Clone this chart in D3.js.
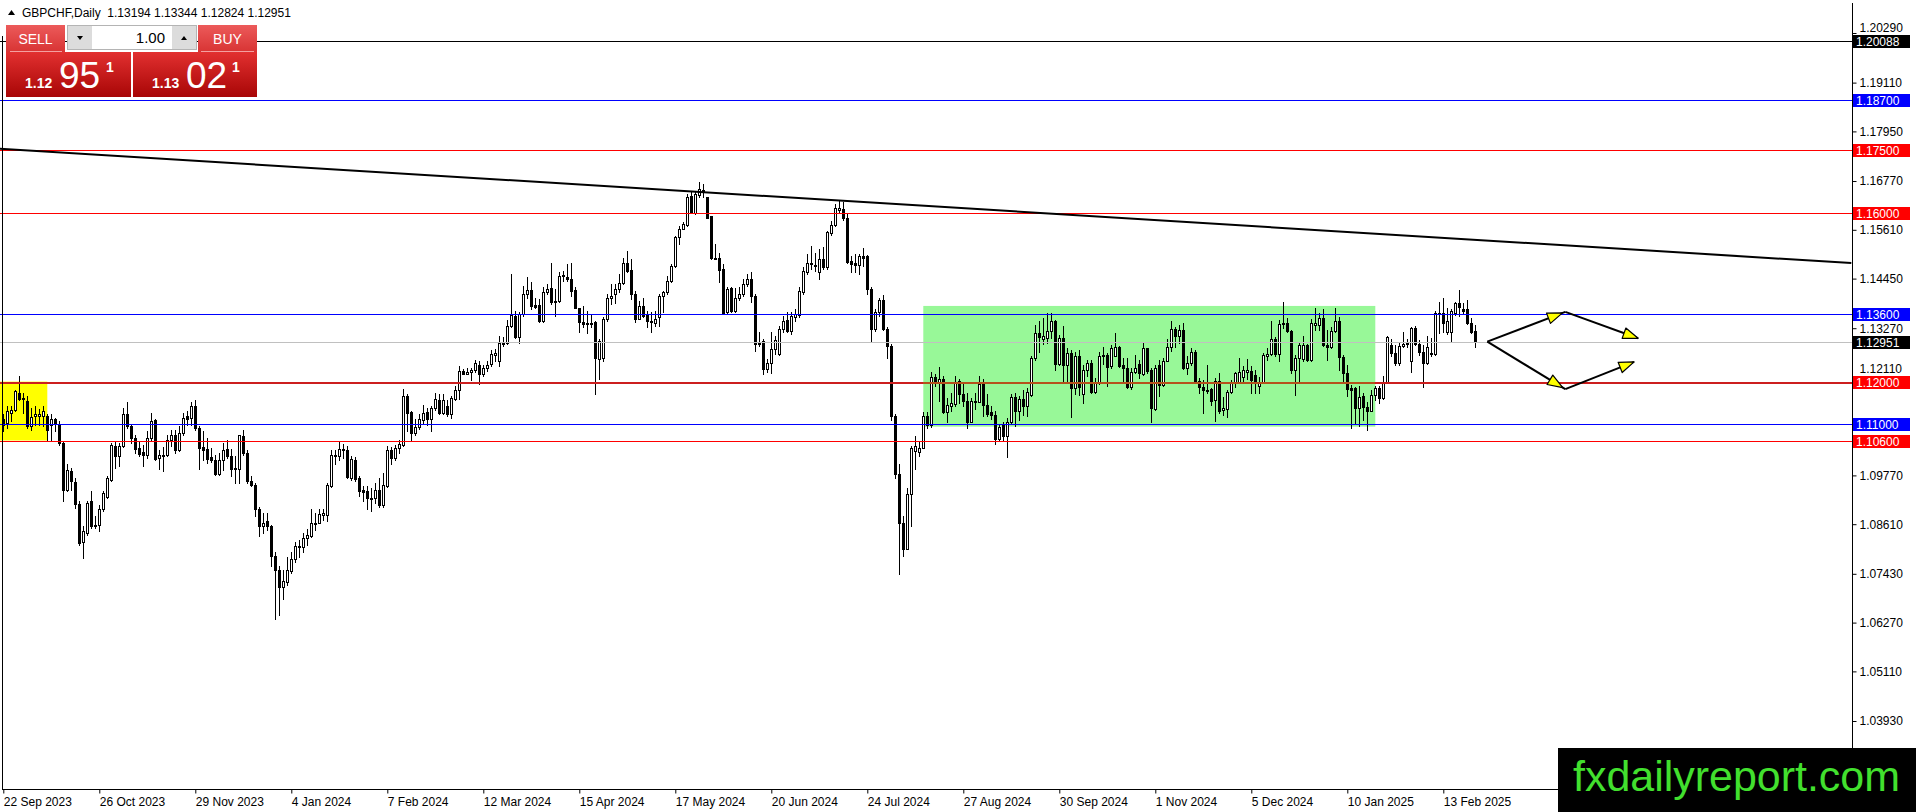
<!DOCTYPE html>
<html>
<head>
<meta charset="utf-8">
<script src="https://cdn.jsdelivr.net/npm/d3@7"></script>
<style>
  body { margin: 0; background: #fff; overflow: hidden; }
  svg text { font-family: "Liberation Sans", Arial, sans-serif; }
</style>
</head>
<body>
<script>
// GBPCHF daily candles (oldest first)

const symbol = 'GBPCHF,Daily';

const dateLabels = ['22 Sep 2023', '26 Oct 2023', '29 Nov 2023', '4 Jan 2024', '7 Feb 2024', '12 Mar 2024',
  '15 Apr 2024', '17 May 2024', '20 Jun 2024', '24 Jul 2024', '27 Aug 2024', '30 Sep 2024',
  '1 Nov 2024', '5 Dec 2024', '10 Jan 2025', '13 Feb 2025'];
const barsPerLabel = 24;

// 1.10950 sits fully under the 1.11000 tag in the picture, so it is left out
const priceTicks = [1.2029, 1.1911, 1.1795, 1.1677, 1.1561, 1.1445, 1.1327, 1.1211,
  1.0977, 1.0861, 1.0743, 1.0627, 1.0511, 1.0393];

const open = [
  1.1110, 1.1102, 1.1125, 1.1133, 1.1173, 1.1161, 1.1155, 1.1094, 1.1118, 1.1119,
  1.1118, 1.1118, 1.1098, 1.1110, 1.1099, 1.1054, 1.0943, 1.0987, 1.0961, 1.0910,
  1.0818, 1.0841, 1.0915, 1.0860, 1.0858, 1.0896, 1.0926, 1.0967, 1.1048, 1.1022,
  1.1048, 1.1122, 1.1094, 1.1066, 1.1042, 1.1032, 1.1026, 1.1066, 1.1108, 1.1018,
  1.1022, 1.1026, 1.1062, 1.1074, 1.1038, 1.1078, 1.1118, 1.1114, 1.1141, 1.1090,
  1.1045, 1.1040, 1.1020, 1.1014, 1.0981, 1.1014, 1.1040, 1.1024, 1.0992, 1.0992,
  1.1070, 1.1030, 1.0963, 1.0955, 1.0897, 1.0857, 1.0868, 1.0857, 1.0786, 1.0753,
  1.0712, 1.0723, 1.0749, 1.0778, 1.0806, 1.0807, 1.0828, 1.0834, 1.0862, 1.0865,
  1.0884, 1.0884, 1.0951, 1.1026, 1.1024, 1.1040, 1.1037, 1.0971, 1.1014, 1.0971,
  1.0942, 1.0939, 1.0923, 1.0923, 1.0942, 1.0907, 1.0951, 1.1037, 1.1018, 1.1042,
  1.1050, 1.1167, 1.1127, 1.1079, 1.1092, 1.1108, 1.1127, 1.1110, 1.1137, 1.1157,
  1.1125, 1.1141, 1.1122, 1.1159, 1.1179, 1.1225, 1.1219, 1.1222, 1.1227, 1.1240,
  1.1219, 1.1232, 1.1242, 1.1263, 1.1250, 1.1292, 1.1292, 1.1333, 1.1357, 1.1305,
  1.1361, 1.1408, 1.1418, 1.1382, 1.1382, 1.1345, 1.1414, 1.1422, 1.1391, 1.1392,
  1.1452, 1.1449, 1.1444, 1.1418, 1.1374, 1.1341, 1.1339, 1.1340, 1.1341, 1.1254,
  1.1255, 1.1349, 1.1400, 1.1408, 1.1420, 1.1434, 1.1482, 1.1466, 1.1408, 1.1350,
  1.1379, 1.1361, 1.1345, 1.1339, 1.1353, 1.1403, 1.1412, 1.1440, 1.1474, 1.1543,
  1.1564, 1.1572, 1.1642, 1.1602, 1.1644, 1.1656, 1.1638, 1.1593, 1.1495, 1.1493,
  1.1468, 1.1365, 1.1422, 1.1368, 1.1400, 1.1408, 1.1432, 1.1444, 1.1404, 1.1290,
  1.1297, 1.1231, 1.1245, 1.1277, 1.1265, 1.1325, 1.1347, 1.1321, 1.1353, 1.1359,
  1.1414, 1.1460, 1.1483, 1.1477, 1.1460, 1.1491, 1.1472, 1.1553, 1.1572, 1.1609,
  1.1610, 1.1588, 1.1487, 1.1483, 1.1477, 1.1498, 1.1499, 1.1420, 1.1325, 1.1365,
  1.1395, 1.1325, 1.1284, 1.1119, 1.0980, 1.0865, 1.0803, 1.0932, 1.1035, 1.1033,
  1.1043, 1.1119, 1.1096, 1.1210, 1.1197, 1.1206, 1.1127, 1.1142, 1.1146, 1.1202,
  1.1170, 1.1154, 1.1105, 1.1154, 1.1152, 1.1194, 1.1144, 1.1127, 1.1121, 1.1063,
  1.1097, 1.1071, 1.1105, 1.1163, 1.1129, 1.1158, 1.1141, 1.1168, 1.1256, 1.1315,
  1.1301, 1.1303, 1.1321, 1.1343, 1.1242, 1.1303, 1.1240, 1.1267, 1.1184, 1.1260,
  1.1171, 1.1228, 1.1245, 1.1176, 1.1196, 1.1264, 1.1264, 1.1236, 1.1261, 1.1282,
  1.1240, 1.1232, 1.1187, 1.1224, 1.1242, 1.1218, 1.1279, 1.1228, 1.1134, 1.1240,
  1.1192, 1.1250, 1.1282, 1.1325, 1.1309, 1.1323, 1.1232, 1.1245, 1.1271, 1.1202,
  1.1188, 1.1180, 1.1182, 1.1156, 1.1202, 1.1133, 1.1134, 1.1176, 1.1198, 1.1200,
  1.1212, 1.1224, 1.1226, 1.1216, 1.1190, 1.1200, 1.1261, 1.1266, 1.1301, 1.1266,
  1.1337, 1.1340, 1.1321, 1.1228, 1.1256, 1.1253, 1.1287, 1.1252, 1.1335, 1.1335,
  1.1351, 1.1287, 1.1283, 1.1321, 1.1345, 1.1258, 1.1220, 1.1184, 1.1184, 1.1137,
  1.1166, 1.1139, 1.1131, 1.1168, 1.1184, 1.1160, 1.1200, 1.1287, 1.1267, 1.1244,
  1.1285, 1.1290, 1.1250, 1.1327, 1.1290, 1.1271, 1.1245, 1.1267, 1.1266, 1.1361,
  1.1363, 1.1317, 1.1317, 1.1363, 1.1386, 1.1372, 1.1372, 1.1340, 1.13194];

const high = [
  1.1122, 1.1141, 1.1141, 1.1181, 1.1213, 1.1173, 1.1165, 1.1137, 1.1141, 1.1135,
  1.1141, 1.1122, 1.1122, 1.1114, 1.1106, 1.1058, 1.1003, 1.0995, 1.0971, 1.0915,
  1.0856, 1.0915, 1.0939, 1.0880, 1.0907, 1.0939, 1.0975, 1.1054, 1.1058, 1.1054,
  1.1137, 1.1151, 1.1098, 1.1074, 1.1058, 1.1050, 1.1082, 1.1125, 1.1110, 1.1038,
  1.1045, 1.1074, 1.1086, 1.1086, 1.1094, 1.1125, 1.1129, 1.1151, 1.1156, 1.1094,
  1.1082, 1.1066, 1.1042, 1.1026, 1.1030, 1.1054, 1.1062, 1.1040, 1.1022, 1.1074,
  1.1086, 1.1037, 1.0975, 1.0959, 1.0903, 1.0888, 1.0888, 1.0860, 1.0796, 1.0761,
  1.0753, 1.0784, 1.0796, 1.0818, 1.0824, 1.0840, 1.0849, 1.0896, 1.0888, 1.0896,
  1.0897, 1.0959, 1.1038, 1.1037, 1.1058, 1.1052, 1.1048, 1.1024, 1.1021, 1.0975,
  1.0951, 1.0951, 1.0947, 1.0959, 1.0971, 1.0983, 1.1046, 1.1045, 1.1050, 1.1062,
  1.1182, 1.1171, 1.1129, 1.1110, 1.1122, 1.1145, 1.1137, 1.1141, 1.1173, 1.1171,
  1.1171, 1.1157, 1.1165, 1.1190, 1.1237, 1.1229, 1.1233, 1.1233, 1.1252, 1.1250,
  1.1240, 1.1250, 1.1276, 1.1277, 1.1309, 1.1305, 1.1347, 1.1456, 1.1369, 1.1365,
  1.1428, 1.1448, 1.1436, 1.1400, 1.1396, 1.1424, 1.1432, 1.1483, 1.1420, 1.1460,
  1.1464, 1.1480, 1.1483, 1.1424, 1.1376, 1.1380, 1.1369, 1.1361, 1.1345, 1.1301,
  1.1353, 1.1408, 1.1432, 1.1432, 1.1456, 1.1495, 1.1511, 1.1491, 1.1416, 1.1392,
  1.1400, 1.1369, 1.1366, 1.1369, 1.1408, 1.1416, 1.1452, 1.1480, 1.1547, 1.1571,
  1.1579, 1.1646, 1.1652, 1.1650, 1.1675, 1.1670, 1.1640, 1.1594, 1.1527, 1.1507,
  1.1480, 1.1424, 1.1424, 1.1422, 1.1424, 1.1444, 1.1456, 1.1460, 1.1408, 1.1317,
  1.1301, 1.1254, 1.1317, 1.1309, 1.1333, 1.1357, 1.1366, 1.1365, 1.1372, 1.1424,
  1.1472, 1.1503, 1.1523, 1.1507, 1.1515, 1.1519, 1.1559, 1.1583, 1.1622, 1.1633,
  1.1626, 1.1602, 1.1499, 1.1503, 1.1503, 1.1517, 1.1501, 1.1424, 1.1372, 1.1400,
  1.1406, 1.1329, 1.1289, 1.1123, 1.1004, 1.0881, 1.0948, 1.1047, 1.1071, 1.1059,
  1.1127, 1.1127, 1.1222, 1.1218, 1.1234, 1.1214, 1.1162, 1.1174, 1.1214, 1.1206,
  1.1198, 1.1174, 1.1162, 1.1174, 1.1214, 1.1206, 1.1170, 1.1142, 1.1131, 1.1096,
  1.1105, 1.1113, 1.1171, 1.1172, 1.1166, 1.1180, 1.1184, 1.1260, 1.1335, 1.1343,
  1.1351, 1.1364, 1.1364, 1.1347, 1.1311, 1.1332, 1.1279, 1.1275, 1.1271, 1.1275,
  1.1240, 1.1252, 1.1252, 1.1208, 1.1271, 1.1283, 1.1267, 1.1287, 1.1315, 1.1285,
  1.1256, 1.1256, 1.1232, 1.1264, 1.1252, 1.1295, 1.1281, 1.1232, 1.1240, 1.1252,
  1.1256, 1.1301, 1.1345, 1.1331, 1.1335, 1.1339, 1.1260, 1.1279, 1.1275, 1.1208,
  1.1204, 1.1240, 1.1184, 1.1208, 1.1220, 1.1164, 1.1180, 1.1204, 1.1224, 1.1256,
  1.1236, 1.1253, 1.1237, 1.1228, 1.1212, 1.1267, 1.1279, 1.1343, 1.1307, 1.1347,
  1.1390, 1.1351, 1.1323, 1.1264, 1.1291, 1.1309, 1.1290, 1.1348, 1.1375, 1.1363,
  1.1372, 1.1323, 1.1331, 1.1375, 1.1353, 1.1264, 1.1240, 1.1192, 1.1187, 1.1190,
  1.1172, 1.1152, 1.1180, 1.1190, 1.1190, 1.1213, 1.1309, 1.1301, 1.1287, 1.1293,
  1.1319, 1.1301, 1.1331, 1.1333, 1.1299, 1.1287, 1.1309, 1.1303, 1.1367, 1.1390,
  1.1398, 1.1375, 1.1372, 1.1390, 1.1417, 1.1386, 1.1393, 1.1351, 1.13344];

const low = [
  1.1082, 1.1090, 1.1106, 1.1129, 1.1157, 1.1125, 1.1090, 1.1086, 1.1098, 1.1098,
  1.1094, 1.1062, 1.1062, 1.1082, 1.1050, 1.0915, 1.0939, 1.0943, 1.0899, 1.0812,
  1.0781, 1.0836, 1.0852, 1.0852, 1.0844, 1.0892, 1.0923, 1.0963, 1.0995, 1.0999,
  1.1045, 1.1090, 1.1054, 1.1030, 1.1022, 1.0999, 1.1018, 1.1062, 1.1014, 1.0992,
  1.0987, 1.1022, 1.1046, 1.1030, 1.1034, 1.1074, 1.1098, 1.1098, 1.1086, 1.0992,
  1.1014, 1.1006, 1.1010, 1.0979, 1.0979, 1.0991, 1.1018, 1.0975, 1.0959, 1.0960,
  1.1026, 1.0960, 1.0951, 1.0880, 1.0834, 1.0840, 1.0848, 1.0761, 1.0635, 1.0646,
  1.0683, 1.0717, 1.0745, 1.0770, 1.0784, 1.0794, 1.0812, 1.0830, 1.0848, 1.0864,
  1.0872, 1.0868, 1.0949, 1.1003, 1.1014, 1.1018, 1.0971, 1.0967, 1.0963, 1.0929,
  1.0915, 1.0897, 1.0892, 1.0911, 1.0903, 1.0902, 1.0949, 1.1005, 1.1014, 1.1030,
  1.1048, 1.1082, 1.1058, 1.1072, 1.1087, 1.1100, 1.1098, 1.1082, 1.1133, 1.1124,
  1.1123, 1.1118, 1.1114, 1.1156, 1.1159, 1.1217, 1.1217, 1.1203, 1.1224, 1.1195,
  1.1213, 1.1225, 1.1238, 1.1250, 1.1238, 1.1285, 1.1289, 1.1329, 1.1303, 1.1293,
  1.1357, 1.1398, 1.1372, 1.1376, 1.1342, 1.1342, 1.1408, 1.1384, 1.1355, 1.1390,
  1.1440, 1.1440, 1.1403, 1.1374, 1.1319, 1.1329, 1.1315, 1.1329, 1.1170, 1.1206,
  1.1250, 1.1345, 1.1384, 1.1388, 1.1412, 1.1432, 1.1460, 1.1396, 1.1342, 1.1349,
  1.1353, 1.1329, 1.1317, 1.1333, 1.1333, 1.1365, 1.1408, 1.1436, 1.1472, 1.1527,
  1.1563, 1.1569, 1.1601, 1.1598, 1.1640, 1.1638, 1.1588, 1.1491, 1.1491, 1.1438,
  1.1361, 1.1361, 1.1366, 1.1366, 1.1395, 1.1404, 1.1428, 1.1390, 1.1273, 1.1285,
  1.1218, 1.1222, 1.1220, 1.1265, 1.1263, 1.1319, 1.1319, 1.1313, 1.1345, 1.1353,
  1.1408, 1.1456, 1.1468, 1.1464, 1.1445, 1.1469, 1.1469, 1.1548, 1.1571, 1.1602,
  1.1585, 1.1482, 1.1460, 1.1460, 1.1456, 1.1476, 1.1408, 1.1297, 1.1321, 1.1357,
  1.1323, 1.1257, 1.1108, 1.0972, 1.0742, 1.0786, 1.0802, 1.0857, 1.0992, 1.1024,
  1.1041, 1.1089, 1.1091, 1.1190, 1.1154, 1.1125, 1.1105, 1.1131, 1.1142, 1.1149,
  1.1142, 1.1089, 1.1104, 1.1134, 1.1151, 1.1119, 1.1118, 1.1112, 1.1051, 1.1059,
  1.1061, 1.1020, 1.1102, 1.1095, 1.1109, 1.1121, 1.1118, 1.1166, 1.1252, 1.1271,
  1.1290, 1.1291, 1.1303, 1.1228, 1.1240, 1.1200, 1.1202, 1.1117, 1.1171, 1.1168,
  1.1149, 1.1214, 1.1172, 1.1172, 1.1194, 1.1242, 1.1190, 1.1232, 1.1260, 1.1234,
  1.1200, 1.1184, 1.1182, 1.1220, 1.1208, 1.1216, 1.1220, 1.1105, 1.1133, 1.1166,
  1.1190, 1.1248, 1.1274, 1.1283, 1.1291, 1.1229, 1.1218, 1.1240, 1.1198, 1.1172,
  1.1125, 1.1172, 1.1145, 1.1107, 1.1125, 1.1121, 1.1115, 1.1172, 1.1188, 1.1196,
  1.1200, 1.1206, 1.1172, 1.1172, 1.1174, 1.1196, 1.1252, 1.1264, 1.1260, 1.1248,
  1.1327, 1.1317, 1.1220, 1.1168, 1.1198, 1.1250, 1.1250, 1.1248, 1.1323, 1.1323,
  1.1285, 1.1252, 1.1279, 1.1317, 1.1228, 1.1196, 1.1166, 1.1089, 1.1101, 1.1095,
  1.1109, 1.1085, 1.1129, 1.1156, 1.1150, 1.1158, 1.1196, 1.1261, 1.1240, 1.1240,
  1.1282, 1.1283, 1.1224, 1.1287, 1.1264, 1.1187, 1.1242, 1.1261, 1.1264, 1.1315,
  1.1319, 1.1313, 1.1295, 1.1359, 1.1355, 1.1363, 1.1337, 1.1315, 1.12824];

const close = [
  1.1098, 1.1129, 1.1133, 1.1177, 1.1159, 1.1159, 1.1094, 1.1116, 1.1124, 1.1124,
  1.1129, 1.1086, 1.1110, 1.1100, 1.1054, 1.0943, 1.0991, 1.0963, 1.0910, 1.0816,
  1.0844, 1.0911, 1.0856, 1.0856, 1.0896, 1.0935, 1.0971, 1.1050, 1.1022, 1.1048,
  1.1124, 1.1094, 1.1066, 1.1040, 1.1029, 1.1026, 1.1066, 1.1106, 1.1016, 1.1026,
  1.1026, 1.1062, 1.1074, 1.1038, 1.1078, 1.1114, 1.1110, 1.1141, 1.1090, 1.1042,
  1.1037, 1.1017, 1.1014, 1.0981, 1.1014, 1.1038, 1.1022, 1.0992, 1.0995, 1.1072,
  1.1030, 1.0963, 1.0955, 1.0896, 1.0857, 1.0865, 1.0856, 1.0785, 1.0751, 1.0712,
  1.0725, 1.0753, 1.0778, 1.0808, 1.0808, 1.0828, 1.0836, 1.0864, 1.0865, 1.0886,
  1.0888, 1.0953, 1.1026, 1.1024, 1.1040, 1.1037, 1.0973, 1.1016, 1.0968, 1.0939,
  1.0938, 1.0923, 1.0921, 1.0942, 1.0907, 1.0953, 1.1037, 1.1018, 1.1042, 1.1052,
  1.1167, 1.1125, 1.1079, 1.1092, 1.1110, 1.1125, 1.1110, 1.1137, 1.1159, 1.1125,
  1.1157, 1.1122, 1.1161, 1.1179, 1.1225, 1.1219, 1.1222, 1.1227, 1.1245, 1.1217,
  1.1232, 1.1240, 1.1265, 1.1269, 1.1292, 1.1293, 1.1333, 1.1358, 1.1307, 1.1361,
  1.1408, 1.1418, 1.1380, 1.1378, 1.1345, 1.1414, 1.1420, 1.1390, 1.1390, 1.1452,
  1.1454, 1.1444, 1.1416, 1.1376, 1.1341, 1.1338, 1.1340, 1.1339, 1.1255, 1.1297,
  1.1349, 1.1400, 1.1404, 1.1420, 1.1434, 1.1482, 1.1464, 1.1408, 1.1350, 1.1380,
  1.1357, 1.1345, 1.1341, 1.1349, 1.1404, 1.1412, 1.1440, 1.1474, 1.1543, 1.1564,
  1.1575, 1.1640, 1.1602, 1.1646, 1.1658, 1.1650, 1.1590, 1.1494, 1.1493, 1.1466,
  1.1363, 1.1420, 1.1368, 1.1400, 1.1408, 1.1432, 1.1444, 1.1403, 1.1289, 1.1293,
  1.1230, 1.1245, 1.1277, 1.1299, 1.1325, 1.1345, 1.1321, 1.1355, 1.1361, 1.1416,
  1.1464, 1.1483, 1.1480, 1.1474, 1.1491, 1.1472, 1.1555, 1.1572, 1.1613, 1.1612,
  1.1588, 1.1485, 1.1479, 1.1477, 1.1499, 1.1495, 1.1420, 1.1325, 1.1365, 1.1395,
  1.1325, 1.1284, 1.1119, 1.0980, 1.0865, 1.0803, 1.0932, 1.1043, 1.1047, 1.1043,
  1.1119, 1.1096, 1.1210, 1.1202, 1.1206, 1.1127, 1.1144, 1.1148, 1.1198, 1.1170,
  1.1154, 1.1105, 1.1154, 1.1152, 1.1194, 1.1144, 1.1123, 1.1121, 1.1063, 1.1091,
  1.1071, 1.1105, 1.1164, 1.1129, 1.1158, 1.1141, 1.1176, 1.1256, 1.1315, 1.1307,
  1.1309, 1.1321, 1.1343, 1.1242, 1.1303, 1.1240, 1.1267, 1.1184, 1.1260, 1.1188,
  1.1228, 1.1244, 1.1176, 1.1196, 1.1260, 1.1261, 1.1234, 1.1279, 1.1282, 1.1237,
  1.1232, 1.1187, 1.1224, 1.1232, 1.1220, 1.1279, 1.1226, 1.1137, 1.1232, 1.1192,
  1.1250, 1.1282, 1.1325, 1.1309, 1.1323, 1.1232, 1.1245, 1.1271, 1.1200, 1.1188,
  1.1180, 1.1179, 1.1155, 1.1202, 1.1131, 1.1137, 1.1176, 1.1200, 1.1220, 1.1224,
  1.1228, 1.1228, 1.1204, 1.1198, 1.1200, 1.1264, 1.1266, 1.1301, 1.1266, 1.1337,
  1.1340, 1.1321, 1.1228, 1.1256, 1.1287, 1.1287, 1.1252, 1.1340, 1.1340, 1.1351,
  1.1287, 1.1283, 1.1321, 1.1343, 1.1258, 1.1220, 1.1182, 1.1180, 1.1137, 1.1164,
  1.1139, 1.1131, 1.1168, 1.1184, 1.1160, 1.1200, 1.1306, 1.1267, 1.1244, 1.1285,
  1.1290, 1.1291, 1.1327, 1.1290, 1.1271, 1.1244, 1.1282, 1.1266, 1.1363, 1.1364,
  1.1340, 1.1343, 1.1367, 1.1386, 1.1378, 1.1369, 1.1339, 1.1319, 1.12951];

// horizontal levels drawn on the chart and their colours
const levels = [1.20088, 1.18700, 1.17500, 1.16000, 1.13600, 1.12000, 1.11000, 1.10600];
const levelColors = ['#000000', '#0000ff', '#ff0000', '#ff0000', '#0000ff', '#cc1f1f', '#0000ff', '#ff0000'];
const levelWidths = [1, 1, 1, 1, 1, 2, 1, 1];

// falling trend line: [bar index, price]
const trendLine = [[-1, 1.1754], [462, 1.1482]];

// rectangles: [from bar, to bar, low price, high price]
const rangeBox = [230, 343, 1.1093, 1.1380];
const startBox = [-5, 11, 1.1060, 1.1200];

// projected scenarios: [bar index, price]
const upPath = [[371, 1.1295], [390.5, 1.1366], [408.7, 1.1303]];
const downPath = [[371, 1.1295], [390.5, 1.1182], [407.7, 1.1247]];

// trade panel quotes
const sellQuote = ['1.12', '95', '1'];
const buyQuote = ['1.13', '02', '1'];
const lotSize = '1.00';


const [w, h] = [1916, 812];
const plotRight = 1852;
const plotBottom = 789;
const last = close.length - 1;

const svg = d3.select('body').append('svg')
  .attr('width', w)
  .attr('height', h);

// escalas: barra -> x , precio -> y
const x = d3.scaleLinear().domain([0, 462]).range([3.3, 1851.3]);
const y = d3.scaleLinear().domain([1.0393, 1.2029]).range([721, 33]);

svg.append('clipPath').attr('id', 'plot')
  .append('rect').attr('x', 0).attr('y', 0).attr('width', plotRight).attr('height', plotBottom);

const plot = svg.append('g').attr('clip-path', 'url(#plot)');

// boxes (behind candles)
plot.append('rect')
  .attr('x', x(rangeBox[0])).attr('y', y(rangeBox[3]))
  .attr('width', x(rangeBox[1]) - x(rangeBox[0]))
  .attr('height', y(rangeBox[2]) - y(rangeBox[3]))
  .attr('fill', '#98f898');

plot.append('rect')
  .attr('x', x(startBox[0])).attr('y', y(startBox[3]))
  .attr('width', x(startBox[1]) - x(startBox[0]))
  .attr('height', y(startBox[2]) - y(startBox[3]))
  .attr('fill', '#ffff00');

// candles
const bars = plot.append('g').attr('shape-rendering', 'crispEdges');
const idx = d3.range(close.length);

bars.selectAll('line.wick').data(idx).enter().append('line')
  .attr('class', 'wick')
  .attr('x1', i => Math.round(x(i)) + 0.5)
  .attr('x2', i => Math.round(x(i)) + 0.5)
  .attr('y1', i => Math.round(y(high[i])))
  .attr('y2', i => Math.round(y(low[i])) + 1)
  .attr('stroke', '#000');

bars.selectAll('rect.body').data(idx).enter().append('rect')
  .attr('class', 'body')
  .each(function (i) {
    const top = Math.round(y(Math.max(open[i], close[i])));
    const bot = Math.round(y(Math.min(open[i], close[i])));
    const cx = Math.round(x(i));
    const el = d3.select(this);
    if (close[i] >= open[i] && bot - top >= 2) {
      el.attr('x', cx - 0.5).attr('y', top + 0.5).attr('width', 2).attr('height', bot - top)
        .attr('fill', '#fff').attr('stroke', '#000');
    } else {
      el.attr('x', cx - 1).attr('y', top).attr('width', 3).attr('height', Math.max(bot - top, 1) + 1)
        .attr('fill', '#000');
    }
  });

// bid line
plot.append('line')
  .attr('x1', 0).attr('x2', plotRight)
  .attr('y1', Math.round(y(close[last])) + 0.5).attr('y2', Math.round(y(close[last])) + 0.5)
  .attr('stroke', '#c0c0c0');

// level lines
plot.selectAll('line.level').data(levels).enter().append('line')
  .attr('class', 'level')
  .attr('x1', 0).attr('x2', plotRight)
  .attr('y1', d => Math.round(y(d)) + 0.5).attr('y2', d => Math.round(y(d)) + 0.5)
  .attr('stroke', (d, i) => levelColors[i])
  .attr('stroke-width', (d, i) => levelWidths[i])
  .attr('shape-rendering', 'crispEdges');

// the 1.12 line looks brown where it crosses the green box
plot.append('line')
  .attr('x1', x(rangeBox[0])).attr('x2', x(rangeBox[1]))
  .attr('y1', Math.round(y(1.12)) + 0.5).attr('y2', Math.round(y(1.12)) + 0.5)
  .attr('stroke', '#b5521c').attr('stroke-width', 2)
  .attr('shape-rendering', 'crispEdges');

// trend line
plot.append('line')
  .attr('x1', x(trendLine[0][0])).attr('y1', y(trendLine[0][1]))
  .attr('x2', x(trendLine[1][0])).attr('y2', y(trendLine[1][1]))
  .attr('stroke', '#000').attr('stroke-width', 2);

// scenario arrows
[upPath, downPath].forEach(path => {
  for (let k = 1; k < path.length; k++) {
    const [x0, y0] = [x(path[k - 1][0]), y(path[k - 1][1])];
    const [x1, y1] = [x(path[k][0]), y(path[k][1])];
    plot.append('line')
      .attr('x1', x0).attr('y1', y0).attr('x2', x1).attr('y2', y1)
      .attr('stroke', '#000').attr('stroke-width', 2);
    const len = Math.hypot(x1 - x0, y1 - y0);
    const ux = (x1 - x0) / len, uy = (y1 - y0) / len;
    const tipX = x1 - ux * (k === 1 ? 3 : 0), tipY = y1 - uy * (k === 1 ? 3 : 0);
    const bx = tipX - ux * 15, by = tipY - uy * 15;
    plot.append('polygon')
      .attr('points', [[tipX, tipY], [bx - uy * 5.5, by + ux * 5.5], [bx + uy * 5.5, by - ux * 5.5]].join(' '))
      .attr('fill', '#ffff00').attr('stroke', '#000').attr('stroke-width', 1.2)
      .attr('stroke-linejoin', 'round');
  }
});

// frame
const frame = svg.append('g').attr('stroke', '#000').attr('shape-rendering', 'crispEdges');
frame.append('line').attr('x1', 2.5).attr('x2', 2.5).attr('y1', 36).attr('y2', plotBottom);
frame.append('line').attr('x1', 2).attr('x2', plotRight + 1).attr('y1', plotBottom + 0.5).attr('y2', plotBottom + 0.5);
frame.append('line').attr('x1', plotRight + 0.5).attr('x2', plotRight + 0.5).attr('y1', 3).attr('y2', plotBottom);

// price tags on the right (values of the levels + current bid)
const tags = levels.map((v, i) => ({ v: v, c: levelColors[i] === '#cc1f1f' ? '#ff0000' : levelColors[i] }));
tags.push({ v: close[last], c: '#000000' });
const tagYs = tags.map(t => Math.round(y(t.v)));

// price axis
const yAxis = d3.axisRight(y)
  .tickValues(priceTicks)
  .tickFormat(d3.format('.5f'))
  .tickSize(4)
  .tickSizeOuter(0);

const ya = svg.append('g')
  .attr('transform', 'translate(' + (plotRight + 0.5) + ',0)')
  .call(yAxis);
ya.select('.domain').remove();
ya.selectAll('text').attr('font-size', 12).attr('fill', '#000').attr('x', 7)
  .style('font-family', '"Liberation Sans", Arial, sans-serif')
  // a tick label that would run into a tag just below it is lifted clear of it
  .attr('y', d => {
    const ty = tagYs.find(t => t - y(d) > 0 && t - y(d) < 14);
    return ty === undefined ? 0 : Math.min(0, (ty - 10) - (y(d) + 3.8));
  });
ya.selectAll('line').attr('stroke', '#000');

// date axis
const xAxis = d3.axisBottom(x)
  .tickValues(dateLabels.map((d, i) => i * barsPerLabel))
  .tickFormat((d, i) => dateLabels[i])
  .tickSize(4)
  .tickSizeOuter(0);

const xa = svg.append('g')
  .attr('transform', 'translate(0,' + (plotBottom + 0.5) + ')')
  .call(xAxis);
xa.select('.domain').remove();
xa.selectAll('text').attr('text-anchor', 'start').attr('x', 0).attr('y', 8)
  .attr('font-size', 12).attr('fill', '#000')
  .style('font-family', '"Liberation Sans", Arial, sans-serif');
xa.selectAll('line').attr('stroke', '#000');

const tag = svg.selectAll('g.tag').data(tags).enter().append('g').attr('class', 'tag');
tag.append('rect')
  .attr('x', plotRight + 1).attr('y', (d, i) => tagYs[i] - 6)
  .attr('width', 57).attr('height', 13)
  .attr('fill', d => d.c);
tag.append('text')
  .attr('x', plotRight + 4).attr('y', (d, i) => tagYs[i] + 5)
  .attr('font-size', 12).attr('fill', '#fff')
  .text(d => d3.format('.5f')(d.v));

// header
svg.append('polygon').attr('points', '8,15 15,15 11.5,10').attr('fill', '#000');
svg.append('text')
  .attr('x', 22).attr('y', 17).attr('font-size', 12).attr('fill', '#000')
  .style('white-space', 'pre')
  .text(symbol + '  ' + [open[last], high[last], low[last], close[last]].map(d3.format('.5f')).join(' '));

// one-click trading panel
const defs = svg.append('defs');
const g1 = defs.append('linearGradient').attr('id', 'quoteRed').attr('x1', 0).attr('x2', 0).attr('y1', 0).attr('y2', 1);
g1.append('stop').attr('offset', '0%').attr('stop-color', '#e23030');
g1.append('stop').attr('offset', '100%').attr('stop-color', '#a80606');
const g2 = defs.append('linearGradient').attr('id', 'btnRed').attr('x1', 0).attr('x2', 0).attr('y1', 0).attr('y2', 1);
g2.append('stop').attr('offset', '0%').attr('stop-color', '#ec5a5a');
g2.append('stop').attr('offset', '100%').attr('stop-color', '#d83434');

const panel = svg.append('g').attr('shape-rendering', 'crispEdges');
panel.append('rect').attr('x', 6).attr('y', 25).attr('width', 59).attr('height', 27).attr('fill', 'url(#btnRed)');
panel.append('rect').attr('x', 198).attr('y', 25).attr('width', 59).attr('height', 27).attr('fill', 'url(#btnRed)');
panel.append('line').attr('x1', 10).attr('x2', 62).attr('y1', 51.5).attr('y2', 51.5).attr('stroke', '#f4a0a0');
panel.append('line').attr('x1', 201).attr('x2', 254).attr('y1', 51.5).attr('y2', 51.5).attr('stroke', '#f4a0a0');
panel.append('rect').attr('x', 67.5).attr('y', 25.5).attr('width', 129).attr('height', 24)
  .attr('fill', '#fff').attr('stroke', '#b4b4b4');
panel.append('rect').attr('x', 68).attr('y', 26).attr('width', 24).attr('height', 23).attr('fill', '#dcdcdc');
panel.append('rect').attr('x', 172).attr('y', 26).attr('width', 24).attr('height', 23).attr('fill', '#dcdcdc');
panel.append('rect').attr('x', 6).attr('y', 52).attr('width', 125).attr('height', 45).attr('fill', 'url(#quoteRed)');
panel.append('rect').attr('x', 133).attr('y', 52).attr('width', 124).attr('height', 45).attr('fill', 'url(#quoteRed)');

svg.append('polygon').attr('points', '77,36 83,36 80,40').attr('fill', '#000');
svg.append('polygon').attr('points', '181,40 187,40 184,36').attr('fill', '#000');
svg.append('text').attr('x', 165).attr('y', 43).attr('text-anchor', 'end')
  .attr('font-size', 15).attr('fill', '#000').text(lotSize);
svg.append('text').attr('x', 35.5).attr('y', 44).attr('text-anchor', 'middle')
  .attr('font-size', 14).attr('fill', '#fff').text('SELL');
svg.append('text').attr('x', 227.5).attr('y', 44).attr('text-anchor', 'middle')
  .attr('font-size', 14).attr('fill', '#fff').text('BUY');

[[sellQuote, 25, 59, 106], [buyQuote, 152, 186, 232]].forEach(([q, a, b, c]) => {
  svg.append('text').attr('x', a).attr('y', 88).attr('font-size', 14).attr('font-weight', 'bold')
    .attr('fill', '#fff').text(q[0]);
  svg.append('text').attr('x', b).attr('y', 88).attr('font-size', 37)
    .attr('fill', '#fff').text(q[1]);
  svg.append('text').attr('x', c).attr('y', 72).attr('font-size', 14).attr('font-weight', 'bold')
    .attr('fill', '#fff').text(q[2]);
});

// watermark
svg.append('rect').attr('x', 1558).attr('y', 748).attr('width', 358).attr('height', 64).attr('fill', '#000');
svg.append('text')
  .attr('x', 1573).attr('y', 791)
  .attr('font-size', 43).attr('fill', '#42e02e')
  .attr('textLength', 327).attr('lengthAdjust', 'spacingAndGlyphs')
  .text('fxdailyreport.com');
</script>
</body>
</html>
